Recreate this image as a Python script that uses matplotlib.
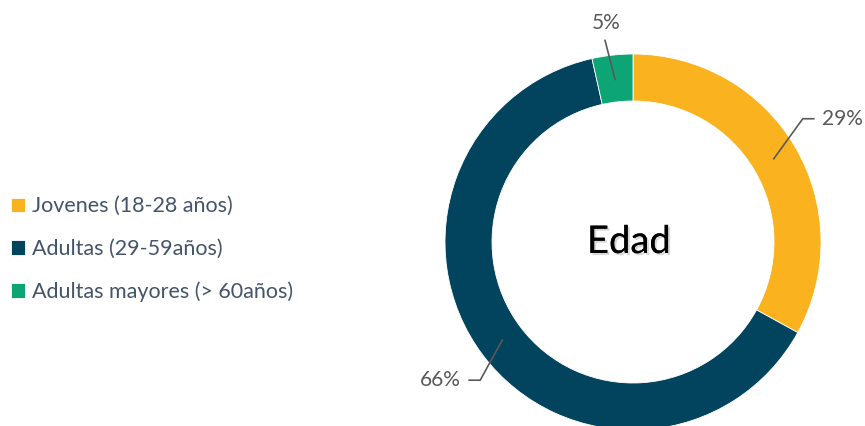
import numpy as np
import matplotlib
matplotlib.use("Agg")
import matplotlib.pyplot as plt
import matplotlib.patheffects as pe

# -------------------------
# data (wedge sizes, labels as printed)
# -------------------------
categories = ["Jovenes (18-28 años)", "Adultas (29-59años)", "Adultas mayores (> 60años)"]
values = [33.0, 63.5, 3.5]
pct_labels = ["29%", "66%", "5%"]
colors = ["#FAB31E", "#02435D", "#0EA574"]
title = "Edad"

# leader line bends (pixels from the wedge anchor), per label
leader_offsets = [(29, 40), (-22, -40), (-10, 39)]

plt.rcParams["font.family"] = ["Lato", "DejaVu Sans"]

W, H = 865, 426
fig = plt.figure(figsize=(W / 100, H / 100), dpi=100)
ax = fig.add_axes([0, 0, 1, 1])

cx, cy = 633, H - 242
R = 188
wedges, _ = ax.pie(values, radius=R, center=(cx, cy), startangle=90,
                   counterclock=False, colors=colors,
                   wedgeprops=dict(width=47, edgecolor="white", linewidth=0.6))

ax.set_xlim(0, W)
ax.set_ylim(0, H)
ax.set_aspect("equal")
ax.axis("off")

# center title with soft shadow
ax.text(cx - 4, cy, title, ha="center", va="center", fontsize=27.5, color="black",
        path_effects=[pe.withSimplePatchShadow(offset=(1.5, -1.5), shadow_rgbFace="#aaaaaa", alpha=0.45),
                      pe.Normal()])

# -------------------------
# percentage labels with leader lines
# -------------------------
gray = "#595959"
for w, lab, (dx, dy) in zip(wedges, pct_labels, leader_offsets):
    mid = np.deg2rad((w.theta1 + w.theta2) / 2)
    x0, y0 = cx + 0.87 * R * np.cos(mid), cy + 0.87 * R * np.sin(mid)
    x1, y1 = x0 + dx, y0 + dy
    if abs(dx) < 15:
        ax.plot([x0, x1], [y0, y1], color=gray, lw=1.2)
        ax.text(x1 + 1, y1 + 7, lab, ha="center", va="bottom", fontsize=15, color=gray)
    else:
        side = 1 if dx > 0 else -1
        x2 = x1 + side * 11
        ax.plot([x0, x1, x2], [y0, y1, y1], color=gray, lw=1.2)
        ax.text(x2 + side * 8, y1, lab, ha="left" if side > 0 else "right",
                va="center", fontsize=15, color=gray)

# -------------------------
# legend
# -------------------------
fig.legend(wedges, categories, loc="center left", bbox_to_anchor=(0.013, 0.415),
           frameon=False, fontsize=15.5, labelcolor="#44546A", handlelength=0.65,
           handleheight=0.65, handletextpad=0.3, labelspacing=1.05, borderaxespad=0,
           borderpad=0)

fig.savefig("out.png", dpi=100)
